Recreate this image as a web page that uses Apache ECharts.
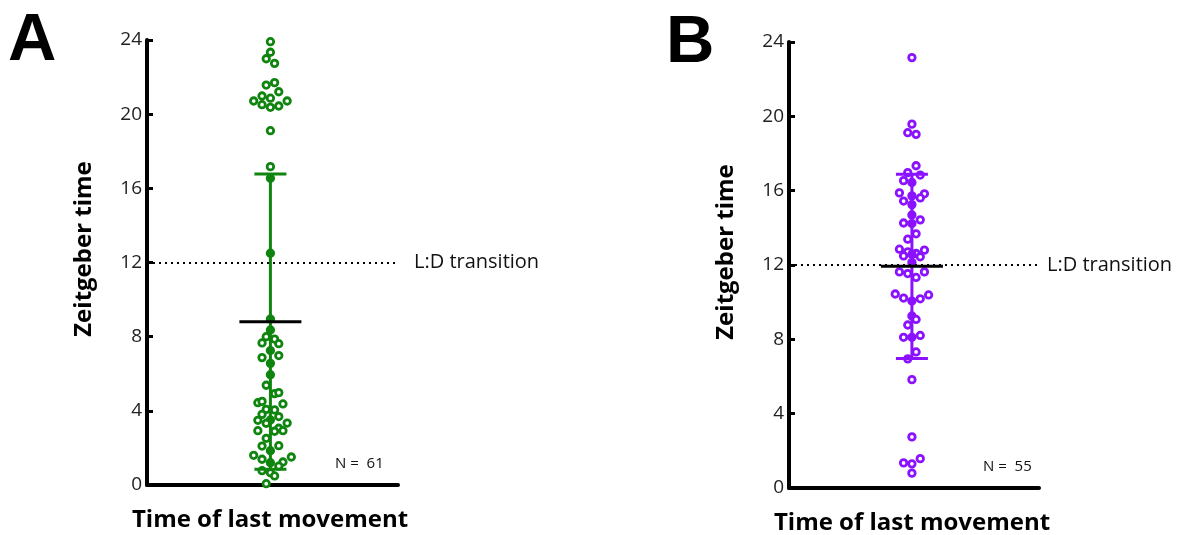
<!DOCTYPE html>
<html>
<head>
<meta charset="utf-8">
<script src="https://cdn.jsdelivr.net/npm/echarts@6/dist/echarts.min.js"></script>
<style>
html, body { margin: 0; padding: 0; background: #fff; }
#chart { width: 1178px; height: 535px; }
</style>
</head>
<body>
<div id="chart"></div>
<script>
// tick labels of both y axes
var yTicks = [0, 4, 8, 12, 16, 20, 24];

// panel A - zeitgeber time of last movement, and beeswarm column of each dot
var timesA = [23.91, 23.34, 22.99, 22.74, 21.57, 21.70, 21.21, 20.98, 20.86, 20.71,
  20.71, 20.51, 20.37, 20.44, 19.11, 17.17, 16.54, 12.50,
  8.95, 8.36, 7.25, 6.56, 5.95, 3.51, 1.85, 1.20,
  8.00, 7.87, 7.66, 7.62, 6.87, 6.98, 5.38, 4.93, 4.98, 4.44,
  4.51, 4.37, 4.08, 4.05, 3.81, 3.69, 3.49, 3.33, 3.34, 3.06,
  2.93, 2.93, 2.90, 2.52, 2.10, 2.12, 1.60, 1.51, 1.39, 1.24,
  1.02, 0.77, 0.66, 0.49, 0.07];
var columnsA = [0, 0, -1, 1, -1, 1, 2, -2, 0, -4,
  4, -2, 0, 2, 0, 0, 0, 0,
  0, 0, 0, 0, 0, 0, 0, 0,
  -1, 1, -2, 2, -2, 2, -1, 1, 2, -3,
  -2, 3, -1, 1, -2, 2, -3, -1, 4, 2,
  3, -3, 1, -1, -2, 2, -4, 5, -2, 3,
  2, -2, 0, 1, -1];

// panel B
var timesB = [23.16, 19.58, 19.12, 19.03, 17.34, 16.97, 16.84, 16.54, 16.44, 15.88,
  15.83, 15.72, 15.61, 15.44, 15.25, 14.69, 14.26, 14.23, 14.43, 13.68,
  13.39, 12.85, 12.80, 12.71, 12.62, 12.58, 12.49, 12.44, 12.14, 11.63,
  11.54, 11.33, 11.63, 10.44, 10.22, 10.06, 10.18, 10.39, 9.26, 9.07,
  8.77, 8.11, 8.11, 8.21, 7.32, 6.95, 5.83, 2.75, 1.35, 1.30,
  1.58, 0.80];
var columnsB = [0, 0, -1, 1, 1, -1, 2, -2, 0, -3,
  3, 0, 2, -2, 0, 0, -2, 0, 2, 1,
  -1, -3, 3, -1, 1, 0, -2, 2, 0, -3,
  -1, 1, 3, -4, -2, 0, 2, 4, 0, 1,
  -1, -2, 0, 2, 1, -1, 0, 0, -2, 0,
  2, 0];

// mean and SD drawn as error bars
var meanSdA = [8.81, 7.96];
var meanSdB = [11.93, 4.96];
var countA = 61;
var countB = 55;
var ldTransition = 12;

var greenA = '#0f850f';
var purpleB = '#8a12ff';
var textFont = '"Open Sans", Lato, sans-serif';

function points(times, cols, meanSd, colour) {
  return times.map(function (t, i) {
    var onBar = cols[i] === 0 && Math.abs(t - meanSd[0]) <= meanSd[1];
    return { value: [cols[i], t], itemStyle: { color: onBar ? colour : '#fff' } };
  });
}

function errorBar(colour) {
  return function (params, api) {
    var m = api.value(0), s = api.value(1);
    var top = api.coord([0, m + s]);
    var bot = api.coord([0, m - s]);
    var mid = api.coord([0, m]);
    var cap = 16, half = 31;
    var st = { stroke: colour, lineWidth: 3 };
    return {
      type: 'group',
      children: [
        { type: 'line', shape: { x1: top[0], y1: top[1], x2: bot[0], y2: bot[1] }, style: st },
        { type: 'line', shape: { x1: top[0] - cap, y1: top[1], x2: top[0] + cap, y2: top[1] }, style: st },
        { type: 'line', shape: { x1: bot[0] - cap, y1: bot[1], x2: bot[0] + cap, y2: bot[1] }, style: st },
        { type: 'line', shape: { x1: mid[0] - half, y1: mid[1], x2: mid[0] + half, y2: mid[1] },
          style: { stroke: '#000', lineWidth: 3 } }
      ]
    };
  };
}

function xAxis(idx) {
  return {
    type: 'value', gridIndex: idx, min: -29.5, max: 30.5,
    axisLine: { onZero: false, lineStyle: { color: '#000', width: 4 } },
    axisTick: { show: false }, axisLabel: { show: false }, splitLine: { show: false }
  };
}

function yAxis(idx) {
  return {
    type: 'value', gridIndex: idx, min: yTicks[0], max: yTicks[yTicks.length - 1], interval: 4,
    axisLine: { show: true, onZero: false, lineStyle: { color: '#000', width: 4 } },
    axisTick: { show: true, inside: true, length: 6, lineStyle: { color: '#000', width: 3 } },
    axisLabel: { margin: 5, color: '#222', fontSize: 19, fontFamily: textFont },
    splitLine: { show: false }
  };
}

function ldLine(gap) {
  return {
    silent: true, symbol: 'none',
    lineStyle: { type: [2, 4], color: '#000', width: 2 },
    label: { position: 'end', distance: gap, formatter: 'L:D transition',
      color: '#111', fontSize: 20, fontFamily: textFont },
    data: [{ yAxis: ldTransition }]
  };
}

function scatter(idx, times, cols, meanSd, colour, gap) {
  return {
    type: 'scatter', xAxisIndex: idx, yAxisIndex: idx,
    data: points(times, cols, meanSd, colour),
    symbol: 'circle', symbolSize: 6.5,
    itemStyle: { borderColor: colour, borderWidth: 2.8, opacity: 1 },
    markLine: ldLine(gap), z: 2
  };
}

var chart = echarts.init(document.getElementById('chart'));
chart.setOption({
  animation: false,
  backgroundColor: '#fff',
  grid: [
    { left: 147, top: 40, width: 251, height: 445 },
    { left: 789, top: 42, width: 250, height: 446 }
  ],
  xAxis: [xAxis(0), xAxis(1)],
  yAxis: [yAxis(0), yAxis(1)],
  series: [
    scatter(0, timesA, columnsA, meanSdA, greenA, 16),
    scatter(1, timesB, columnsB, meanSdB, purpleB, 8),
    { type: 'custom', xAxisIndex: 0, yAxisIndex: 0, renderItem: errorBar(greenA), data: [meanSdA], z: 3, silent: true },
    { type: 'custom', xAxisIndex: 1, yAxisIndex: 1, renderItem: errorBar(purpleB), data: [meanSdB], z: 3, silent: true }
  ],
  graphic: [
    { type: 'text', left: 8, top: 8, style: { text: 'A', font: '900 67px "Liberation Sans", Arial, sans-serif', fill: '#000' } },
    { type: 'text', left: 666, top: 10, style: { text: 'B', font: '900 67px "Liberation Sans", Arial, sans-serif', fill: '#000' } },
    { type: 'text', x: 84, y: 249, rotation: Math.PI / 2,
      style: { text: 'Zeitgeber time', font: 'bold 24px ' + textFont, fill: '#000', align: 'center', verticalAlign: 'middle' } },
    { type: 'text', x: 726, y: 252, rotation: Math.PI / 2,
      style: { text: 'Zeitgeber time', font: 'bold 24px ' + textFont, fill: '#000', align: 'center', verticalAlign: 'middle' } },
    { type: 'text', x: 270, y: 520,
      style: { text: 'Time of last movement', font: 'bold 24px ' + textFont, fill: '#000', align: 'center', verticalAlign: 'middle' } },
    { type: 'text', x: 912, y: 523,
      style: { text: 'Time of last movement', font: 'bold 24px ' + textFont, fill: '#000', align: 'center', verticalAlign: 'middle' } },
    { type: 'text', x: 335, y: 464,
      style: { text: 'N =  ' + countA, font: '15px ' + textFont, fill: '#111', align: 'left', verticalAlign: 'middle' } },
    { type: 'text', x: 983, y: 467,
      style: { text: 'N =  ' + countB, font: '15px ' + textFont, fill: '#111', align: 'left', verticalAlign: 'middle' } }
  ]
});
</script>
</body>
</html>
